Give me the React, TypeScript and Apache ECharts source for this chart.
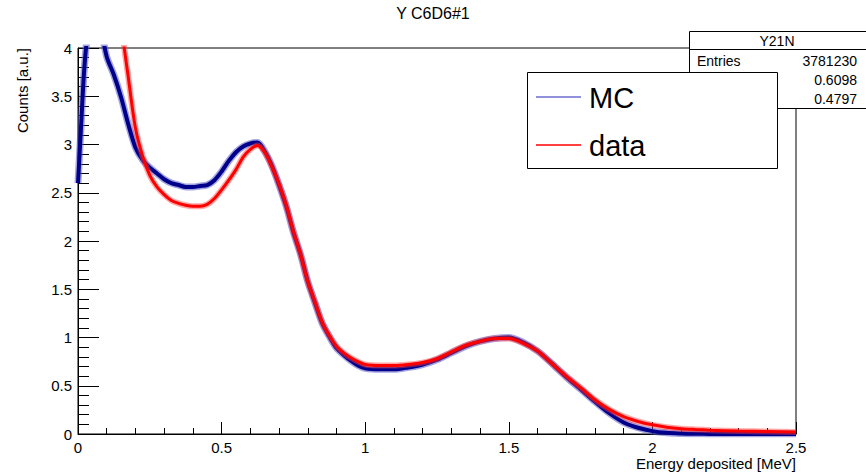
import React, { useEffect, useRef } from "react";
import * as echarts from "echarts";

const energies = [
  0, 0.01, 0.02, 0.03, 0.05, 0.075, 0.1, 0.125, 0.15, 0.175, 0.2, 0.225, 0.25, 0.275, 0.3, 0.325,
  0.35, 0.375, 0.4, 0.425, 0.45, 0.475, 0.5, 0.525, 0.55, 0.575, 0.6, 0.625, 0.65, 0.675, 0.7,
  0.725, 0.75, 0.775, 0.8, 0.825, 0.85, 0.875, 0.9, 0.925, 0.95, 0.975, 1.0, 1.05, 1.1, 1.15,
  1.2, 1.25, 1.3, 1.35, 1.4, 1.45, 1.5, 1.55, 1.6, 1.65, 1.7, 1.75, 1.8, 1.85, 1.9, 1.95, 2.0,
  2.05, 2.1, 2.15, 2.2, 2.3, 2.4, 2.5,
];

const mcValues = [
  2.6, 3.15, 3.7, 4.05, 4.35, 4.25, 3.91, 3.72, 3.49, 3.21, 2.97, 2.84, 2.76, 2.7, 2.64, 2.6,
  2.58, 2.56, 2.56, 2.57, 2.58, 2.63, 2.72, 2.83, 2.92, 2.98, 3.01, 3.02, 2.93, 2.78, 2.58,
  2.36, 2.09, 1.86, 1.58, 1.36, 1.15, 1.01, 0.89, 0.82, 0.76, 0.71, 0.68, 0.67, 0.67, 0.69,
  0.72, 0.77, 0.84, 0.91, 0.96, 0.99, 1.0, 0.95, 0.86, 0.73, 0.59, 0.465, 0.335, 0.215, 0.12,
  0.065, 0.03, 0.012, 0.005, 0.002, 0.001, 0, 0, 0,
];

const dataValues: (number | null)[] = [
  null, null, null, null, null, null, null, 4.9, 4.25, 3.7, 3.17, 2.88, 2.68, 2.56, 2.48, 2.42,
  2.39, 2.37, 2.36, 2.36, 2.38, 2.44, 2.53, 2.63, 2.74, 2.87, 2.95, 2.99, 2.92, 2.77, 2.59,
  2.37, 2.1, 1.86, 1.58, 1.37, 1.16, 1.02, 0.91, 0.84, 0.79, 0.75, 0.72, 0.71, 0.71, 0.72,
  0.74, 0.78, 0.85, 0.92, 0.96, 0.99, 0.99, 0.94, 0.86, 0.73, 0.6, 0.48, 0.355, 0.255, 0.18,
  0.13, 0.095, 0.07, 0.055, 0.047, 0.04, 0.03, 0.025, 0.02,
];

const statsTitle = "Y21N";
const statsEntries = "3781230";
const statsMean = "0.6098";
const statsStd = "0.4797";

const FONT = "Liberation Sans, Arial, Helvetica, sans-serif";

export default function App() {
  const ref = useRef<HTMLDivElement>(null);

  useEffect(() => {
    if (!ref.current) return;
    const chart = echarts.init(ref.current, undefined, { renderer: "svg" });

    const mcData = energies.map((e, i) => [e, mcValues[i]]);
    const dData = energies
      .map((e, i) => [e, dataValues[i]])
      .filter((p) => p[1] !== null);

    const axisCommon = {
      axisLine: { show: true, lineStyle: { color: "#000", width: 1 } },
      splitLine: { show: false },
      axisLabel: { color: "#000", fontSize: 15, fontFamily: FONT, margin: 6 },
    };

    chart.setOption({
      animation: false,
      backgroundColor: "#fff",
      grid: {
        left: 78,
        top: 48,
        right: 70,
        bottom: 41,
        show: true,
        borderColor: "#000",
        borderWidth: 1,
        backgroundColor: "transparent",
      },
      xAxis: {
        type: "value",
        min: 0,
        max: 2.5,
        interval: 0.5,
        ...axisCommon,
        axisTick: { show: true, inside: true, length: 12, lineStyle: { color: "#000" } },
        minorTick: { show: true, splitNumber: 5, length: 6, lineStyle: { color: "#000" } },
      },
      yAxis: {
        type: "value",
        min: 0,
        max: 4,
        interval: 0.5,
        ...axisCommon,
        axisTick: { show: true, inside: true, length: 21, lineStyle: { color: "#000" } },
        minorTick: { show: true, splitNumber: 5, length: 11, lineStyle: { color: "#000" } },
      },
      series: [
        {
          type: "line",
          data: mcData,
          showSymbol: false,
          smooth: 0.3,
          clip: true,
          lineStyle: { color: "rgba(90,90,200,0.55)", width: 7 },
          silent: true,
          z: 2,
        },
        {
          type: "line",
          name: "MC",
          data: mcData,
          showSymbol: false,
          smooth: 0.3,
          clip: true,
          lineStyle: { color: "#00008b", width: 4 },
          z: 3,
        },
        {
          type: "line",
          data: dData,
          showSymbol: false,
          smooth: 0.3,
          clip: true,
          lineStyle: { color: "rgba(255,60,60,0.45)", width: 6 },
          silent: true,
          z: 4,
        },
        {
          type: "line",
          name: "data",
          data: dData,
          showSymbol: false,
          smooth: 0.3,
          clip: true,
          lineStyle: { color: "#ff0000", width: 3 },
          z: 5,
        },
      ],
      graphic: [
        {
          type: "text",
          x: 433,
          y: 13,
          z: 100,
          style: {
            text: "Y C6D6#1",
            fontSize: 16,
            fontFamily: FONT,
            fill: "#000",
            align: "center",
            verticalAlign: "middle",
          },
        },
        {
          type: "text",
          x: 22,
          y: 48,
          rotation: Math.PI / 2,
          z: 100,
          style: {
            text: "Counts [a.u.]",
            fontSize: 15,
            fontFamily: FONT,
            fill: "#000",
            align: "right",
            verticalAlign: "middle",
          },
        },
        {
          type: "text",
          x: 796,
          y: 463,
          z: 100,
          style: {
            text: "Energy deposited [MeV]",
            fontSize: 15,
            fontFamily: FONT,
            fill: "#000",
            align: "right",
            verticalAlign: "middle",
          },
        },
        // stats box
        {
          type: "rect",
          z: 100,
          shape: { x: 689.5, y: 31.5, width: 185, height: 77 },
          style: { fill: "#fff", stroke: "#000", lineWidth: 1 },
        },
        {
          type: "line",
          z: 101,
          shape: { x1: 689.5, y1: 49.5, x2: 870, y2: 49.5 },
          style: { stroke: "#000", lineWidth: 1 },
        },
        {
          type: "text",
          x: 777,
          y: 41,
          z: 101,
          style: { text: statsTitle, fontSize: 14, fontFamily: FONT, fill: "#000", align: "center", verticalAlign: "middle" },
        },
        {
          type: "text",
          x: 697,
          y: 61,
          z: 101,
          style: { text: "Entries", fontSize: 14, fontFamily: FONT, fill: "#000", align: "left", verticalAlign: "middle" },
        },
        {
          type: "text",
          x: 857,
          y: 61,
          z: 101,
          style: { text: statsEntries, fontSize: 14, fontFamily: FONT, fill: "#000", align: "right", verticalAlign: "middle" },
        },
        {
          type: "text",
          x: 857,
          y: 80,
          z: 101,
          style: { text: statsMean, fontSize: 14, fontFamily: FONT, fill: "#000", align: "right", verticalAlign: "middle" },
        },
        {
          type: "text",
          x: 857,
          y: 99,
          z: 101,
          style: { text: statsStd, fontSize: 14, fontFamily: FONT, fill: "#000", align: "right", verticalAlign: "middle" },
        },
        // legend
        {
          type: "rect",
          z: 110,
          shape: { x: 527.5, y: 72.5, width: 250, height: 96 },
          style: { fill: "#fff", stroke: "#000", lineWidth: 1 },
        },
        {
          type: "line",
          z: 111,
          shape: { x1: 536, y1: 97, x2: 581, y2: 97 },
          style: { stroke: "#6b6bd0", lineWidth: 1.5 },
        },
        {
          type: "text",
          x: 589,
          y: 98,
          z: 111,
          style: { text: "MC", fontSize: 29, fontFamily: FONT, fill: "#000", align: "left", verticalAlign: "middle" },
        },
        {
          type: "line",
          z: 111,
          shape: { x1: 536, y1: 145, x2: 581, y2: 145 },
          style: { stroke: "#ff0000", lineWidth: 1.5 },
        },
        {
          type: "text",
          x: 589,
          y: 146,
          z: 111,
          style: { text: "data", fontSize: 29, fontFamily: FONT, fill: "#000", align: "left", verticalAlign: "middle" },
        },
      ],
    });

    return () => chart.dispose();
  }, []);

  return (
    <div
      ref={ref}
      style={{ position: "fixed", left: 0, top: 0, width: 866, height: 475, background: "#fff" }}
    />
  );
}
